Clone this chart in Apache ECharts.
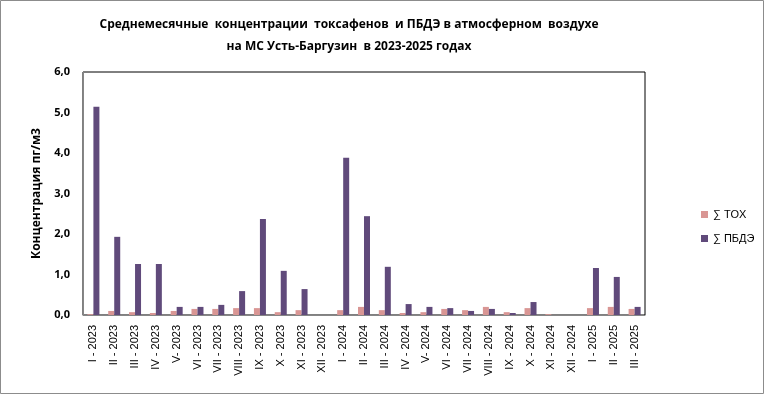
<!DOCTYPE html>
<html><head><meta charset="utf-8">
<script src="https://cdn.jsdelivr.net/npm/echarts@6/dist/echarts.min.js"></script>
<style>html,body{margin:0;padding:0;background:#fff}#c{width:765px;height:396px}</style>
</head><body><div id="c"></div>
<script>
const categories = ["I - 2023","II - 2023","III - 2023","IV - 2023","V- 2023","VI - 2023","VII - 2023","VIII - 2023","IX - 2023","X - 2023","XI - 2023","XII - 2023",
"I - 2024","II - 2024","III - 2024","IV - 2024","V- 2024","VI - 2024","VII - 2024","VIII - 2024","IX - 2024","X - 2024","XI - 2024","XII - 2024",
"I - 2025","II - 2025","III - 2025"];
const toxValues = [0.02,0.10,0.07,0.05,0.10,0.15,0.15,0.17,0.17,0.07,0.12,0,
0.12,0.20,0.12,0.05,0.07,0.15,0.12,0.20,0.07,0.17,0.02,0,
0.17,0.20,0.15];
const pbdeValues = [5.14,1.93,1.26,1.26,0.20,0.20,0.25,0.59,2.37,1.09,0.64,0,
3.88,2.44,1.19,0.27,0.20,0.17,0.10,0.15,0.05,0.32,0,0,
1.16,0.94,0.20];
const seriesNames = ["∑ TOX","∑ ПБДЭ"];
const titleLines = ["Среднемесячные  концентрации  токсафенов  и ПБДЭ в атмосферном  воздухе","на МС Усть-Баргузин  в 2023-2025 годах"];
const yAxisName = "Концентрация пг/м3";

const chart = echarts.init(document.getElementById('c'));
chart.setOption({
  animation:false,
  backgroundColor:'#fff',
  title:{text:titleLines.join('\n'),left:344,textAlign:'center',top:9,
    textStyle:{fontFamily:'Open Sans',fontWeight:'bold',fontSize:12,lineHeight:22,color:'#000'}},
  graphic:[{type:'rect',shape:{x:0.5,y:0.5,width:763,height:393},style:{fill:'none',stroke:'#8c8c8c',lineWidth:1},silent:true}],
  legend:{orient:'vertical',left:696,top:204,itemWidth:7,itemHeight:7,itemGap:13,icon:'rect',
    textStyle:{fontFamily:'Liberation Sans',fontSize:11,color:'#000'}},
  grid:{left:83,right:120,top:72,bottom:81,show:true,borderColor:'#000',borderWidth:1},
  xAxis:{type:'category',data:categories,
    axisLine:{lineStyle:{color:'#868686'}},axisTick:{show:false},
    axisLabel:{rotate:90,interval:0,fontFamily:'Liberation Sans',fontSize:11,color:'#000',margin:10}},
  yAxis:{type:'value',min:0,max:6,interval:1,
    name:yAxisName,nameLocation:'middle',nameGap:40,nameRotate:90,
    nameTextStyle:{fontFamily:'Open Sans',fontWeight:'bold',fontSize:12,color:'#000'},
    axisLine:{show:true,lineStyle:{color:'#868686'}},axisTick:{show:false},splitLine:{show:false},
    axisLabel:{fontFamily:'Open Sans',fontWeight:'bold',fontSize:11,color:'#000',margin:13,
      formatter:v=>v.toFixed(1).replace('.',',')}},
  series:[
    {name:seriesNames[0],type:'bar',data:toxValues,barWidth:6,barGap:'0%',itemStyle:{color:'#D99694'}},
    {name:seriesNames[1],type:'bar',data:pbdeValues,barWidth:6,barGap:'0%',itemStyle:{color:'#604A7B'}}
  ]
});
</script></body></html>
